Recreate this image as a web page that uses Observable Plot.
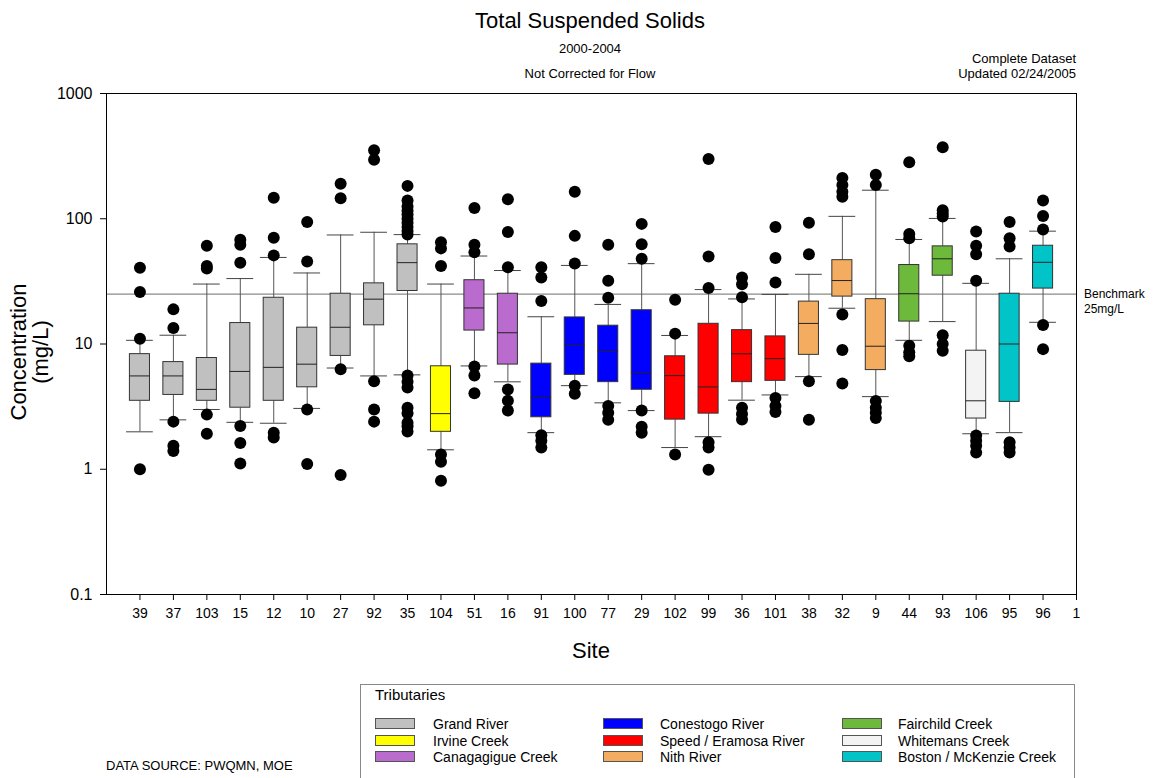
<!DOCTYPE html>
<html>
<head>
<meta charset="utf-8">
<script src="https://cdn.jsdelivr.net/npm/d3@7"></script>
<script src="https://cdn.jsdelivr.net/npm/@observablehq/plot@0.6"></script>
<style>
  html, body { margin: 0; padding: 0; background: #fff; }
  body { font-family: Arial, "Liberation Sans", sans-serif; color: #000; }
  #wrap { position: relative; width: 1154px; height: 778px; overflow: hidden; }
  .abs { position: absolute; white-space: nowrap; }
  #chart { position: absolute; left: 0; top: 0; }
  #legend { position: absolute; left: 360px; top: 684px; width: 715px; height: 100px; border: 1px solid #888; box-sizing: border-box; }
  .sw { position: absolute; width: 40px; height: 11px; border: 1px solid #555; box-sizing: border-box; }
  .lt { position: absolute; font-size: 14px; line-height: 14px; }
</style>
</head>
<body>
<div id="wrap">
  <div id="chart"></div>
  <div class="abs" style="left:0;width:1180px;top:8px;text-align:center;font-size:22px;">Total Suspended Solids</div>
  <div class="abs" style="left:0;width:1180px;top:41px;text-align:center;font-size:13px;">2000-2004</div>
  <div class="abs" style="left:0;width:1180px;top:66px;text-align:center;font-size:13px;">Not Corrected for Flow</div>
  <div class="abs" style="right:78px;top:51px;text-align:right;font-size:13px;line-height:15px;">Complete Dataset<br>Updated 02/24/2005</div>
  <div class="abs" style="left:1084px;top:287px;font-size:12px;line-height:15px;">Benchmark<br>25mg/L</div>
  <div class="abs" style="left:-60px;top:330px;width:180px;text-align:center;transform:rotate(-90deg);font-size:22px;line-height:22px;">Concentration<br>(mg/L)</div>
  <div class="abs" style="left:0;width:1182px;top:638px;text-align:center;font-size:22px;">Site</div>
  <div class="abs" style="left:106px;top:758px;font-size:13px;">DATA SOURCE: PWQMN, MOE</div>
  <div id="legend"></div>
</div>
<script>
// ---- data ----
const siteLabels = ["39","37","103","15","12","10","27","92","35","104","51","16","91","100","77","29","102","99","36","101","38","32","9","44","93","106","95","96","1"];
const siteTrib = ["Grand River","Grand River","Grand River","Grand River","Grand River","Grand River","Grand River","Grand River","Grand River",
  "Irvine Creek","Canagagigue Creek","Canagagigue Creek",
  "Conestogo River","Conestogo River","Conestogo River","Conestogo River",
  "Speed / Eramosa River","Speed / Eramosa River","Speed / Eramosa River","Speed / Eramosa River",
  "Nith River","Nith River","Nith River","Fairchild Creek","Fairchild Creek","Whitemans Creek",
  "Boston / McKenzie Creek","Boston / McKenzie Creek"];
const lowWhisker  = [1.99,2.48,3.0,2.37,2.33,3.06,6.43,5.56,5.67,1.43,6.68,4.99,1.96,4.65,3.39,2.94,1.49,1.82,3.56,3.92,5.49,19.3,3.8,10.7,15.1,1.92,1.96,14.9];
const q1          = [3.52,3.92,3.52,3.10,3.52,4.51,8.03,14.1,26.5,1.99,12.8,6.85,2.6,5.67,4.96,4.31,2.49,2.78,4.96,5.08,8.19,23.9,6.19,15.1,35.1,2.54,3.45,27.7];
const medianVal   = [5.56,5.56,4.34,6.04,6.51,6.9,13.6,22.8,44.6,2.78,19.4,12.3,3.75,9.78,8.73,5.92,5.59,4.54,8.35,7.64,14.6,32.1,9.6,25.2,47.9,3.52,10.0,44.9];
const q3          = [8.3,7.17,7.73,14.7,23.4,13.5,25.2,30.5,62.5,6.64,32.3,25.2,6.97,16.3,14.0,18.6,7.98,14.5,12.9,11.5,21.8,46.7,22.8,42.7,60.2,8.84,25.2,60.9];
const highWhisker = [10.7,11.75,30.1,33.3,49.1,36.9,74.2,78,74.7,30.1,50.4,38.6,16.5,42.4,20.7,43.8,11.7,27.2,22.9,24.9,36,104.5,169,68.3,100.6,30.5,47.9,79.6];
const outliers = [
  [40.6,26,11,1.0],
  [18.9,13.4,2.4,1.54,1.4],
  [61,42,40,2.73,1.92],
  [68,62,44.6,2.21,1.62,1.11],
  [147,70.5,51,1.96,1.79],
  [94,45.5,3.0,1.1],
  [190,146,6.3,0.9],
  [352,296,5.05,3.0,2.4],
  [183,140,125,116,108,100,93,86,80,75,5.6,5.0,4.5,3.1,2.8,2.35,2.2,2.0],
  [65,58,42,1.31,1.15,0.81],
  [122,62,54,6.6,5.6,4.05],
  [143,78.5,41,4.34,3.52,2.94],
  [41,34,22,1.87,1.69,1.49],
  [164,73,44,4.65,4.0],
  [62,32,23.4,3.2,2.82,2.48],
  [91,62.5,48,2.94,2.18,1.96],
  [22.6,12.1,1.31],
  [300,50,28,1.64,1.49,0.99],
  [34,30,23.6,3.1,2.76,2.5],
  [86,48.5,31,3.7,3.2,2.87],
  [93,52,5.05,2.48],
  [212,186,164,150,17.2,8.95,4.83],
  [225,186,3.5,3.1,2.82,2.56],
  [282,75.6,70,9.7,8.6,8.0],
  [372,117,110,104,11.75,10.0,8.84],
  [79,61,52,32,1.86,1.69,1.54,1.36],
  [94,70,60,1.64,1.49,1.36],
  [140,105,82,14.2,9.1]
];
const tributaries = ["Grand River","Irvine Creek","Canagagigue Creek","Conestogo River","Speed / Eramosa River","Nith River","Fairchild Creek","Whitemans Creek","Boston / McKenzie Creek"];
const tribColors  = ["#c0c0c0","#ffff00","#b96ccd","#0000ff","#ff0000","#f4ad60","#6db93b","#f3f3f3","#00c4c8"];
const yTicks = [0.1, 1, 10, 100, 1000];
const benchmark = 25;

// ---- build tables ----
const boxes = siteTrib.map((t, i) => ({
  pos: i + 1, trib: t, lo: lowWhisker[i], q1: q1[i], med: medianVal[i], q3: q3[i], hi: highWhisker[i]
}));
const dots = outliers.flatMap((arr, i) => arr.map(v => ({pos: i + 1, v})));
const boxHalf = 0.3, capHalf = 0.4;

const chart = Plot.plot({
  width: 1154,
  height: 640,
  marginLeft: 106,
  marginRight: 78,
  marginTop: 93,
  marginBottom: 46,
  style: {fontFamily: "Arial, 'Liberation Sans', sans-serif", background: "#fff", color: "#000"},
  x: {domain: [0, siteLabels.length], axis: null},
  y: {type: "log", domain: [0.1, 1000], axis: null},
  color: {domain: tributaries, range: tribColors},
  marks: [
    Plot.ruleY([benchmark], {stroke: "#8a8a8a", strokeWidth: 1.2}),
    // whiskers
    Plot.ruleX(boxes, {x: "pos", y1: "lo", y2: "q1", stroke: "#555", strokeWidth: 1}),
    Plot.ruleX(boxes, {x: "pos", y1: "q3", y2: "hi", stroke: "#555", strokeWidth: 1}),
    Plot.ruleY(boxes, {y: "lo", x1: d => d.pos - capHalf, x2: d => d.pos + capHalf, stroke: "#444", strokeWidth: 1}),
    Plot.ruleY(boxes, {y: "hi", x1: d => d.pos - capHalf, x2: d => d.pos + capHalf, stroke: "#444", strokeWidth: 1}),
    // boxes
    Plot.rect(boxes, {x1: d => d.pos - boxHalf, x2: d => d.pos + boxHalf, y1: "q1", y2: "q3", fill: "trib", stroke: "#333", strokeWidth: 1}),
    Plot.ruleY(boxes, {y: "med", x1: d => d.pos - boxHalf, x2: d => d.pos + boxHalf, stroke: "#222", strokeWidth: 1}),
    // outliers
    Plot.dot(dots, {x: "pos", y: "v", r: 6, fill: "#000", stroke: "none"}),
    Plot.frame({stroke: "#000", strokeWidth: 1}),
    Plot.axisX({ticks: d3.range(1, siteLabels.length + 1), tickFormat: i => siteLabels[i - 1], tickSize: 6, tickPadding: 8, fontSize: 14, label: null, stroke: "#000"}),
    Plot.axisY({ticks: yTicks, tickFormat: d => String(d), tickSize: 6, tickPadding: 8, fontSize: 16, label: null})
  ]
});
document.getElementById("chart").appendChild(chart);

// ---- legend ----
const lg = document.getElementById("legend");
const title = document.createElement("div");
title.className = "lt";
title.style.cssText = "left:14px;top:2px;font-size:15px;line-height:16px;";
title.textContent = "Tributaries";
lg.appendChild(title);
const colX = [14, 242, 481];
const labX = [72, 299, 537];
const rowY = [35, 52, 68];
tributaries.forEach((t, i) => {
  const c = Math.floor(i / 3), r = i % 3;
  const sw = document.createElement("div");
  sw.className = "sw";
  sw.style.left = colX[c] + "px";
  sw.style.top = (rowY[r] - 2) + "px";
  sw.style.background = tribColors[i];
  lg.appendChild(sw);
  const lb = document.createElement("div");
  lb.className = "lt";
  lb.style.left = labX[c] + "px";
  lb.style.top = (rowY[r] - 3) + "px";
  lb.textContent = t;
  lg.appendChild(lb);
});
</script>
</body>
</html>
